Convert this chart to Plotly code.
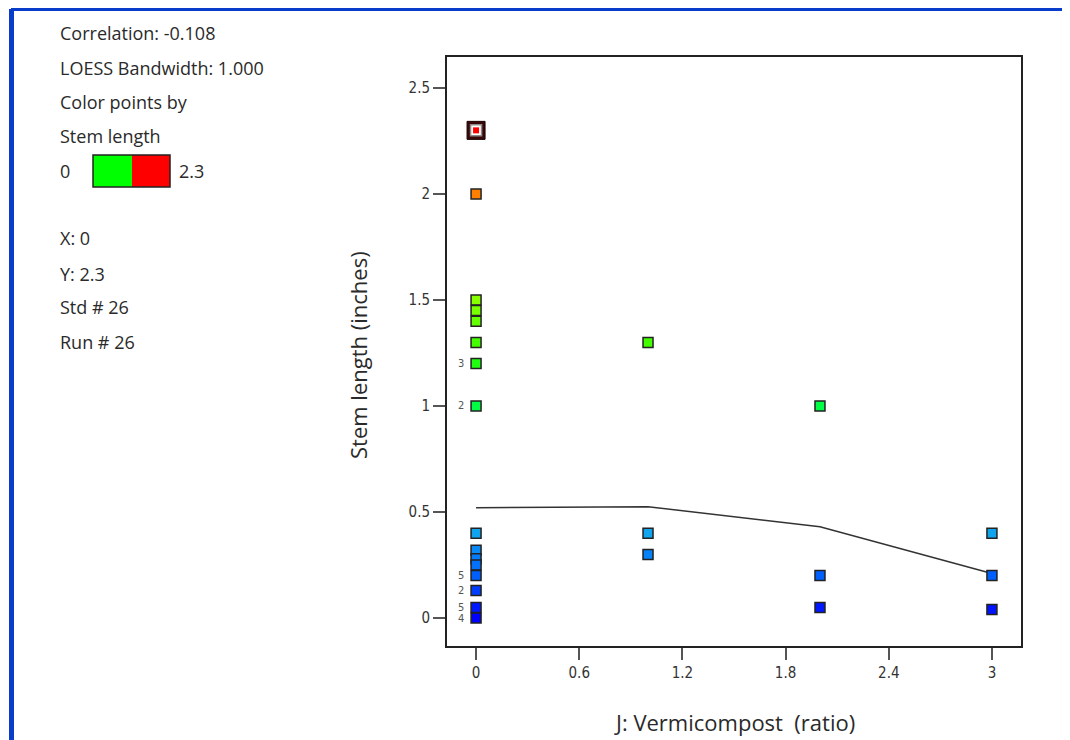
import plotly.graph_objects as go

# ---------------- data ----------------
x_vals = [0, 0, 0, 0, 0, 0, 0, 0, 0, 0, 0, 0, 0, 0, 0, 0,
          1, 1, 1,
          2, 2, 2,
          3, 3, 3]
y_vals = [2.3, 2.0, 1.5, 1.45, 1.4, 1.3, 1.2, 1.0, 0.4, 0.32, 0.28, 0.25, 0.2, 0.13, 0.05, 0.0,
          1.3, 0.4, 0.3,
          1.0, 0.2, 0.05,
          0.4, 0.2, 0.04]
counts = [1, 1, 1, 1, 1, 1, 3, 2, 1, 1, 1, 1, 5, 2, 5, 4,
          1, 1, 1,
          1, 1, 1,
          1, 1, 1]

loess_x = [0, 1, 2, 3]
loess_y = [0.52, 0.525, 0.43, 0.21]

sel_x = [0]
sel_y = [2.3]

x_ticks = [0, 0.6, 1.2, 1.8, 2.4, 3]
x_ticktext = ["0", "0.6", "1.2", "1.8", "2.4", "3"]
y_ticks = [0, 0.5, 1, 1.5, 2, 2.5]
y_ticktext = ["0", "0.5", "1", "1.5", "2", "2.5"]

color_min = 0
color_max = 2.3

info_lines = ["Correlation: -0.108", "LOESS Bandwidth: 1.000", "Color points by", "Stem length"]
point_lines = ["X: 0", "Y: 2.3", "Std # 26", "Run # 26"]

x_title = "J: Vermicompost  (ratio)"
y_title = "Stem length (inches)"

# ---------------- layout geometry (page pixels; page body has 8px margin) ----------------
OFF = 8
W, H = 1062, 732
L, R, T, B = 447, 1021, 57, 646   # plot frame in page pixels
pw, ph = R - L, B - T


def px2x(px):
    return (px - L) / pw


def px2y(py):
    return (B - py) / ph


colorscale = [
    [0.0, "#0000ff"],
    [0.087, "#0060ff"],
    [0.174, "#10a4ee"],
    [0.435, "#00ff44"],
    [0.522, "#20ff10"],
    [0.565, "#44ff00"],
    [0.652, "#88ff00"],
    [0.87, "#ff8000"],
    [1.0, "#ff0000"],
]

FONT = "Open Sans, Noto Sans, DejaVu Sans, sans-serif"
NARROW = "Liberation Sans Narrow, DejaVu Sans Condensed, Open Sans, sans-serif"
TXT = "#2a2a2a"
PANEL_SIZE = 18

fig = go.Figure()

# LOESS line
fig.add_trace(go.Scatter(
    x=loess_x, y=loess_y, mode="lines",
    line=dict(color="#333333", width=1.5),
    hoverinfo="skip", showlegend=False,
))

# highlighted point outer box
fig.add_trace(go.Scatter(
    x=sel_x, y=sel_y, mode="markers",
    marker=dict(symbol="square", size=18, color="#3a0808",
                line=dict(color="#1a0000", width=1)),
    hoverinfo="skip", showlegend=False,
))

# data points
fig.add_trace(go.Scatter(
    x=x_vals, y=y_vals, mode="markers",
    marker=dict(symbol="square", size=10, color=y_vals,
                colorscale=colorscale, cmin=color_min, cmax=color_max,
                line=dict(color="#222222", width=1.5)),
    showlegend=False,
))

# highlighted point inner ring + red core
fig.add_trace(go.Scatter(
    x=sel_x, y=sel_y, mode="markers",
    marker=dict(symbol="square", size=11, color="#ffffff",
                line=dict(color="#8a8a8a", width=1.5)),
    hoverinfo="skip", showlegend=False,
))
fig.add_trace(go.Scatter(
    x=sel_x, y=sel_y, mode="markers",
    marker=dict(symbol="square", size=6, color="#ff0000",
                line=dict(color="#ff0000", width=0)),
    hoverinfo="skip", showlegend=False,
))

annotations = []
# count labels for overlapping points
for xv, yv, c in zip(x_vals, y_vals, counts):
    if c > 1:
        annotations.append(dict(
            x=xv, y=yv, xref="x", yref="y", text=str(c), showarrow=False,
            xshift=-15, font=dict(family=NARROW, size=11, color="#555555"),
        ))

# left info panel
for txt, py in zip(info_lines, [33, 68, 102, 136]):
    annotations.append(dict(
        x=px2x(58), y=px2y(py), xref="paper", yref="paper", text=txt,
        showarrow=False, xanchor="left", yanchor="middle",
        font=dict(family=FONT, size=PANEL_SIZE, color=TXT),
    ))
for txt, py in zip(point_lines, [238, 274, 307, 342]):
    annotations.append(dict(
        x=px2x(58), y=px2y(py), xref="paper", yref="paper", text=txt,
        showarrow=False, xanchor="left", yanchor="middle",
        font=dict(family=FONT, size=PANEL_SIZE, color=TXT),
    ))
annotations.append(dict(
    x=px2x(58), y=px2y(171), xref="paper", yref="paper", text=str(color_min),
    showarrow=False, xanchor="left", yanchor="middle",
    font=dict(family=FONT, size=PANEL_SIZE, color=TXT),
))
annotations.append(dict(
    x=px2x(177), y=px2y(171), xref="paper", yref="paper", text=str(color_max),
    showarrow=False, xanchor="left", yanchor="middle",
    font=dict(family=FONT, size=PANEL_SIZE, color=TXT),
))

# axis titles
annotations.append(dict(
    x=0.5, y=px2y(722), xref="paper", yref="paper", text=x_title,
    showarrow=False, xanchor="center", yanchor="middle",
    font=dict(family=FONT, size=22, color=TXT),
))
annotations.append(dict(
    x=px2x(358), y=px2y(355), xref="paper", yref="paper", text=y_title,
    showarrow=False, xanchor="center", yanchor="middle", textangle=-90,
    font=dict(family=FONT, size=22, color=TXT),
))

shapes = []
# color legend box (green / red halves)
shapes.append(dict(type="rect", xref="paper", yref="paper",
                   x0=px2x(93), x1=px2x(132), y0=px2y(187), y1=px2y(155),
                   fillcolor="#00ff00", line=dict(width=0)))
shapes.append(dict(type="rect", xref="paper", yref="paper",
                   x0=px2x(132), x1=px2x(170), y0=px2y(187), y1=px2y(155),
                   fillcolor="#ff0000", line=dict(width=0)))
shapes.append(dict(type="rect", xref="paper", yref="paper",
                   x0=px2x(93), x1=px2x(170), y0=px2y(187), y1=px2y(155),
                   fillcolor="rgba(0,0,0,0)", line=dict(color="#222222", width=1.5)))

# blue window border (left and top)
shapes.append(dict(type="rect", xref="paper", yref="paper",
                   x0=px2x(9), x1=px2x(14), y0=px2y(760), y1=px2y(9),
                   fillcolor="#0a3ccb", line=dict(width=0)))
shapes.append(dict(type="rect", xref="paper", yref="paper",
                   x0=px2x(11), x1=px2x(1090), y0=px2y(11), y1=px2y(6),
                   fillcolor="#0a3ccb", line=dict(width=0)))

fig.update_layout(
    width=W, height=H,
    margin=dict(l=L - OFF, r=W - (R - OFF), t=T - OFF, b=H - (B - OFF), pad=0),
    paper_bgcolor="white", plot_bgcolor="white",
    annotations=annotations, shapes=shapes,
    showlegend=False,
    xaxis=dict(
        range=[-0.169, 3.169],
        tickvals=x_ticks, ticktext=x_ticktext,
        showgrid=False, zeroline=False,
        showline=True, mirror=True, linecolor="#222222", linewidth=2,
        ticks="outside", ticklen=12, tickwidth=2, tickcolor="#555555",
        tickfont=dict(family=NARROW, size=15, color="#333333"),
    ),
    yaxis=dict(
        range=[-0.132, 2.646],
        tickvals=y_ticks, ticktext=y_ticktext,
        showgrid=False, zeroline=False,
        showline=True, mirror=True, linecolor="#222222", linewidth=2,
        ticks="outside", ticklen=12, tickwidth=2, tickcolor="#555555",
        tickfont=dict(family=NARROW, size=15, color="#333333"),
    ),
)

fig.write_html("out.html")
